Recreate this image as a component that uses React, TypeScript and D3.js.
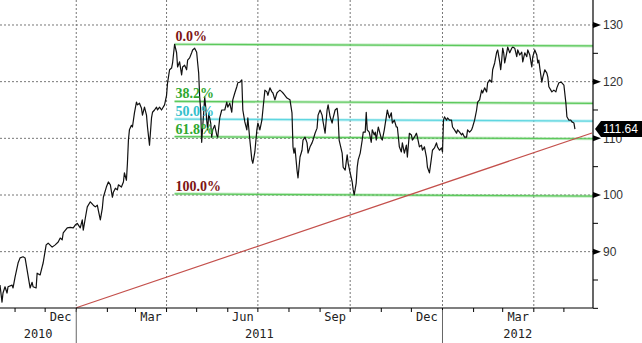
import React from 'react';
import * as d3 from 'd3';

const W = 642;
const H = 343;

// Time frame of the chart (calendar days counted from startDate)
const startDate = new Date(2010, 9, 17);
const endDate = new Date(2012, 4, 30);

// [day offset from startDate, close]
const closeSeries: [number, number][] = [
  [0, 84.1], [2, 81.1], [3, 82.7], [5, 83.8], [7, 82.7], [8, 83.8], [12, 84.1], [13, 83.6],
  [15, 85.5], [18, 88.0], [20, 88.9], [23, 89.1], [25, 88.9], [27, 86.8], [30, 83.6], [32, 84.6],
  [33, 83.8], [36, 83.6], [37, 86.2], [40, 85.9], [42, 87.3], [43, 88.0], [46, 91.2], [48, 91.5],
  [52, 90.8], [55, 91.2], [58, 91.7], [60, 92.4], [62, 92.1], [63, 93.3], [67, 94.2], [70, 94.3],
  [73, 94.2], [75, 94.7], [77, 95.0], [80, 94.2], [82, 95.6], [83, 93.8], [85, 95.9], [87, 97.9],
  [90, 98.8], [93, 98.2], [95, 97.9], [97, 98.2], [98, 97.3], [100, 95.6], [102, 97.7], [103, 99.6],
  [106, 101.4], [108, 102.3], [110, 101.8], [112, 99.6], [113, 100.5], [115, 101.2], [117, 100.9],
  [118, 101.8], [121, 101.4], [123, 102.3], [124, 103.9], [126, 102.6], [127, 105.6], [128, 109.7],
  [129, 111.5], [131, 112.3], [132, 112.0], [134, 114.5], [136, 116.4], [137, 115.9], [139, 116.2],
  [141, 115.3], [142, 114.1], [144, 115.5], [146, 114.1], [147, 112.0], [149, 108.8], [151, 113.6],
  [152, 114.6], [154, 115.0], [156, 115.5], [157, 115.0], [159, 115.5], [161, 115.0], [162, 115.3],
  [164, 115.9], [166, 117.6], [167, 119.8], [169, 122.1], [171, 122.4], [172, 123.3], [174, 126.6],
  [176, 125.1], [177, 122.6], [179, 123.5], [181, 121.2], [182, 122.6], [184, 122.9], [186, 122.1],
  [187, 123.8], [189, 124.2], [191, 125.1], [192, 125.6], [194, 125.9], [196, 125.2], [197, 123.3],
  [198, 121.5], [199, 117.3], [200, 115.0], [201, 109.3], [202, 112.0], [203, 114.5], [204, 117.3],
  [205, 115.5], [206, 113.2], [207, 111.5], [208, 114.5], [210, 112.7], [211, 110.2], [212, 111.5],
  [214, 112.3], [216, 110.6], [217, 110.2], [219, 113.6], [221, 115.0], [224, 115.0], [226, 116.4],
  [227, 115.5], [229, 116.2], [231, 114.6], [232, 116.8], [234, 118.0], [236, 119.1], [237, 119.8],
  [239, 119.9], [241, 120.3], [242, 115.0], [244, 112.9], [246, 111.5], [247, 113.6], [249, 109.7],
  [251, 106.2], [252, 105.6], [254, 107.6], [256, 111.5], [257, 112.7], [259, 111.5], [261, 113.2],
  [262, 115.0], [264, 118.5], [266, 118.2], [267, 117.6], [269, 118.9], [271, 118.2], [272, 118.0],
  [274, 116.8], [276, 118.0], [277, 118.2], [279, 118.5], [281, 118.2], [282, 118.0], [286, 117.1],
  [289, 116.8], [291, 114.5], [292, 108.5], [293, 107.4], [294, 108.3], [296, 104.4], [297, 103.0],
  [299, 106.7], [301, 107.9], [302, 109.7], [304, 110.2], [306, 109.2], [307, 107.4], [309, 108.5],
  [311, 109.2], [312, 109.7], [314, 110.9], [316, 111.8], [317, 114.1], [319, 115.0], [321, 114.1],
  [322, 112.9], [324, 110.9], [326, 115.0], [327, 115.9], [329, 113.8], [331, 112.7], [332, 113.6],
  [334, 115.0], [336, 115.3], [337, 113.6], [338, 109.7], [341, 107.4], [342, 104.9], [344, 104.4],
  [346, 107.1], [347, 105.6], [349, 103.9], [351, 102.3], [352, 100.9], [353, 100.0], [355, 102.1],
  [356, 104.9], [357, 106.2], [359, 107.4], [361, 109.7], [362, 111.1], [364, 111.1], [365, 114.6],
  [366, 111.5], [368, 111.1], [370, 109.3], [371, 111.5], [373, 110.6], [374, 111.1], [375, 109.7],
  [377, 112.0], [380, 110.0], [381, 109.7], [383, 111.5], [385, 113.8], [386, 115.0], [388, 113.6],
  [390, 114.5], [391, 112.7], [393, 113.2], [395, 112.0], [396, 112.0], [398, 108.5], [400, 107.6],
  [401, 109.2], [403, 107.4], [405, 108.8], [406, 106.7], [408, 110.9], [410, 110.6], [411, 109.7],
  [413, 110.2], [415, 110.9], [416, 110.2], [418, 108.5], [420, 108.8], [421, 107.9], [423, 108.5],
  [425, 106.7], [426, 104.9], [428, 103.9], [430, 106.5], [431, 107.9], [433, 108.3], [435, 109.2],
  [436, 108.5], [438, 107.9], [440, 108.3], [441, 107.6], [442, 113.2], [443, 113.8], [445, 113.2],
  [446, 113.6], [448, 113.2], [450, 113.2], [451, 112.0], [453, 111.5], [455, 110.9], [456, 111.5],
  [458, 111.1], [460, 110.6], [461, 110.9], [463, 110.2], [465, 110.2], [466, 111.5], [468, 111.1],
  [470, 111.5], [471, 112.0], [473, 113.2], [475, 115.0], [476, 116.4], [478, 116.8], [480, 118.5],
  [481, 118.0], [483, 118.9], [485, 118.2], [486, 119.8], [488, 120.3], [490, 119.9], [491, 122.1],
  [493, 123.3], [495, 125.2], [496, 125.6], [498, 123.5], [499, 122.1], [500, 123.8], [501, 125.9],
  [502, 125.1], [503, 123.3], [505, 125.1], [506, 126.1], [508, 125.1], [510, 125.9], [511, 126.1],
  [513, 125.9], [515, 124.4], [516, 125.6], [518, 124.7], [520, 125.2], [521, 123.5], [523, 125.1],
  [525, 124.4], [526, 125.6], [528, 124.7], [530, 122.6], [531, 124.4], [533, 125.6], [535, 124.7],
  [536, 123.3], [537, 123.8], [538, 122.4], [540, 119.9], [541, 120.8], [543, 122.1], [545, 121.5],
  [546, 120.8], [547, 119.1], [549, 118.5], [550, 118.2], [552, 118.5], [554, 118.2], [555, 118.9],
  [557, 119.8], [559, 119.9], [560, 119.8], [562, 119.4], [564, 116.2], [565, 113.8], [567, 113.2],
  [569, 113.2], [570, 112.9], [572, 112.7], [573, 111.64],
];

const lastPrice = 111.64;

const yMajorTicks = [90, 100, 110, 120, 130];
const yMinorTicks = [80, 85, 95, 105, 115, 125];

// month labels: [year, monthIndex, text]
const monthLabels: [number, number, string][] = [
  [2010, 11, 'Dec'], [2011, 2, 'Mar'], [2011, 5, 'Jun'], [2011, 8, 'Sep'], [2011, 11, 'Dec'], [2012, 2, 'Mar'],
];
const yearLabels = ['2010', '2011', '2012'];

// Fibonacci retracement
const fibRatios = [0, 0.382, 0.5, 0.618, 1];
const fibLabels = ['0.0%', '38.2%', '50.0%', '61.8%', '100.0%'];
const fibStartDay = 174;
const fibHigh = [126.6, 126.3]; // at start, at end
const fibLow = [100.2, 99.8];

// Trend line: [day offset, value]
const trendLine: [number, number][] = [[76, 80.1], [590, 110.95]];

const dayToDate = (d: number) => d3.timeDay.offset(startDate, Math.floor(d));

export default function App() {
  const plotRight = 593;
  const plotBottom = 308;
  const x = d3.scaleTime().domain([startDate, endDate]).range([0, plotRight]);
  const y = d3.scaleLinear().domain([80.06, 134.41]).range([plotBottom, 0]);

  const line = d3
    .line<[number, number]>()
    .x((d) => x(dayToDate(d[0])))
    .y((d) => y(d[1]));

  const quarterTicks = x.ticks(d3.timeMonth.every(3) as any).filter((d) => d.getMonth() % 3 === 0);
  const monthTicks = x.ticks(d3.timeMonth.every(1) as any);
  const yearStarts = x.ticks(d3.timeYear.every(1) as any);

  const yearBounds = [0, ...yearStarts.map((d) => x(d)), plotRight];

  const fibX0 = x(dayToDate(fibStartDay));
  const fibX1 = plotRight;
  const fibColor = (i: number) => (i === 2 ? '#5fd6e0' : '#5cc95c');
  const fibTextColor = (i: number) =>
    i === 0 || i === 4 ? '#7d1414' : i === 2 ? '#33c0cc' : '#2fa82f';

  const lastY = y(lastPrice);

  return (
    <div style={{ position: 'fixed', left: 0, top: 0, width: W, height: H, background: '#fff' }}>
      <svg width={W} height={H} style={{ display: 'block' }}>
        <rect x={0} y={0} width={W} height={H} fill="#fff" />
        {/* grid */}
        {yMajorTicks.map((t) => (
          <line key={'gy' + t} x1={0} x2={plotRight} y1={y(t)} y2={y(t)} stroke="#777" strokeWidth={1} strokeDasharray="2,2" />
        ))}
        {quarterTicks.map((d, i) => (
          <line key={'gx' + i} x1={x(d)} x2={x(d)} y1={0} y2={plotBottom} stroke="#777" strokeWidth={1} strokeDasharray="2,2" />
        ))}

        {/* fib lines */}
        {fibRatios.map((r, i) => {
          const v0 = fibHigh[0] - r * (fibHigh[0] - fibLow[0]);
          const v1 = fibHigh[1] - r * (fibHigh[1] - fibLow[1]);
          return (
            <g key={'fib' + i}>
              <line x1={fibX0} x2={fibX1} y1={y(v0)} y2={y(v1)} stroke={fibColor(i)} strokeOpacity={0.35} strokeWidth={3} />
              <line x1={fibX0} x2={fibX1} y1={y(v0)} y2={y(v1)} stroke={fibColor(i)} strokeWidth={1.2} />
            </g>
          );
        })}

        {/* trend line */}
        <line
          x1={x(dayToDate(trendLine[0][0]))}
          y1={y(trendLine[0][1])}
          x2={x(dayToDate(trendLine[1][0]))}
          y2={y(trendLine[1][1])}
          stroke="#c4504c"
          strokeWidth={1.2}
        />

        {/* price */}
        <path d={line(closeSeries) || ''} fill="none" stroke="#111" strokeWidth={1.2} strokeLinejoin="round" />

        {/* fib labels */}
        {fibRatios.map((r, i) => {
          const v0 = fibHigh[0] - r * (fibHigh[0] - fibLow[0]);
          return (
            <text
              key={'fl' + i}
              x={fibX0 + 1}
              y={y(v0) - 3}
              fill={fibTextColor(i)}
              fontFamily="'Liberation Serif', serif"
              fontWeight="bold"
              fontSize={14}
            >
              {fibLabels[i]}
            </text>
          );
        })}

        {/* axes */}
        <line x1={0} x2={plotRight} y1={plotBottom} y2={plotBottom} stroke="#000" strokeWidth={1.2} />
        <line x1={plotRight} x2={plotRight} y1={0} y2={plotBottom} stroke="#000" strokeWidth={1.2} />
        {monthTicks.map((d, i) => (
          <line key={'mt' + i} x1={x(d)} x2={x(d)} y1={plotBottom} y2={plotBottom + 4} stroke="#000" />
        ))}
        {yearStarts.map((d, i) => (
          <line key={'ys' + i} x1={x(d)} x2={x(d)} y1={plotBottom + 2} y2={H} stroke="#666" />
        ))}
        {monthLabels.map(([yr, m, t], i) => {
          const a = x(new Date(yr, m, 1));
          const b = x(new Date(yr, m + 1, 1));
          return (
            <text key={'ml' + i} x={(a + b) / 2} y={321} textAnchor="middle" fontFamily="'DejaVu Sans Mono', monospace" fontSize={12} fill="#222">
              {t}
            </text>
          );
        })}
        {yearLabels.map((t, i) => (
          <text
            key={'yl' + i}
            x={(yearBounds[i] + yearBounds[i + 1]) / 2}
            y={338}
            textAnchor="middle"
            fontFamily="'DejaVu Sans Mono', monospace"
            fontSize={12}
            fill="#222"
          >
            {t}
          </text>
        ))}
        {yMinorTicks.map((t) => (
          <line key={'ym' + t} x1={plotRight} x2={plotRight + 5} y1={y(t)} y2={y(t)} stroke="#000" />
        ))}
        {yMajorTicks.map((t) => (
          <g key={'yt' + t}>
            <path d={`M${plotRight},${y(t) - 3}L${plotRight + 8},${y(t)}L${plotRight},${y(t) + 3}Z`} fill="#000" />
            <text x={plotRight + 10} y={y(t)} dy="0.35em" fontFamily="'Liberation Sans', Arial, sans-serif" fontSize={12} fill="#333">
              {t}
            </text>
          </g>
        ))}

        {/* last price tag */}
        <path
          d={`M${plotRight + 2},${lastY}L${plotRight + 8},${lastY - 8}L${W},${lastY - 8}L${W},${lastY + 8}L${plotRight + 8},${lastY + 8}Z`}
          fill="#000"
        />
        <text x={plotRight + 10} y={lastY} dy="0.36em" fontFamily="'Liberation Sans', Arial, sans-serif" fontSize={12} fill="#fff">
          {lastPrice.toFixed(2)}
        </text>
      </svg>
    </div>
  );
}
